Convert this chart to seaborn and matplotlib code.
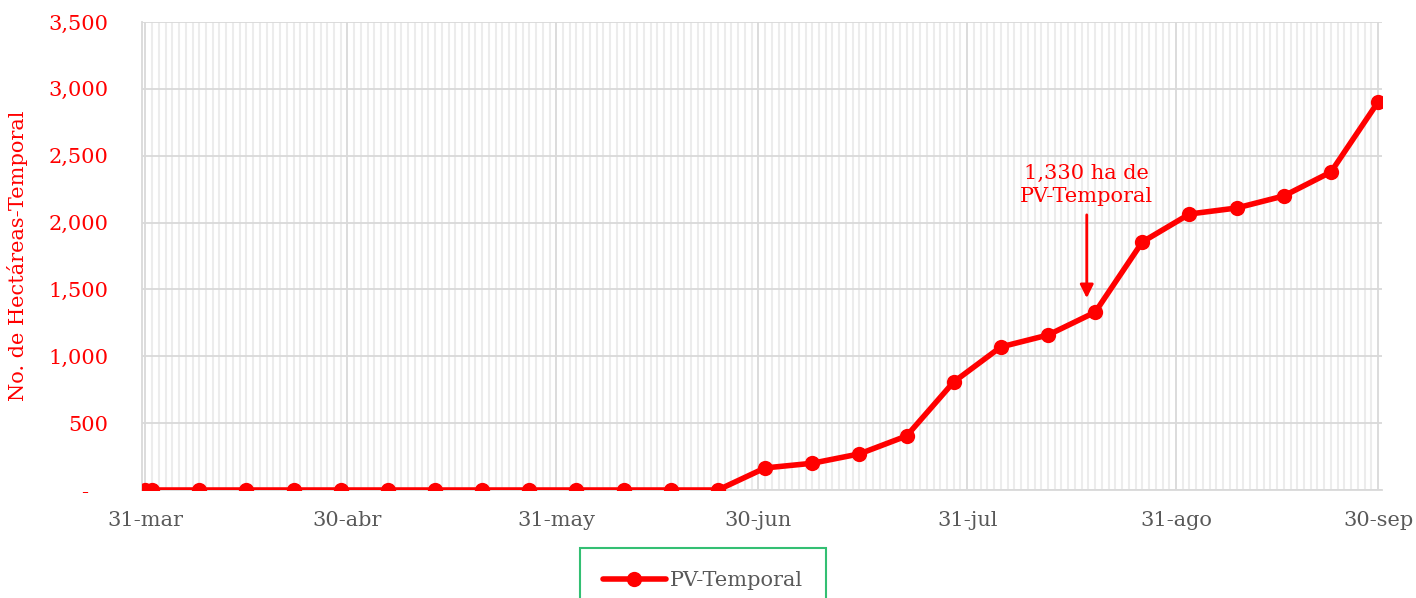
import pandas as pd
import seaborn as sns
import matplotlib.pyplot as plt
import matplotlib.dates as mdates
from matplotlib.ticker import FuncFormatter

# weekly cumulative hectares (PV-Temporal)
fechas = ['2021-03-31', '2021-04-01', '2021-04-08', '2021-04-15', '2021-04-22',
          '2021-04-29', '2021-05-06', '2021-05-13', '2021-05-20', '2021-05-27',
          '2021-06-03', '2021-06-10', '2021-06-17', '2021-06-24', '2021-07-01',
          '2021-07-08', '2021-07-15', '2021-07-22', '2021-07-29', '2021-08-05',
          '2021-08-12', '2021-08-19', '2021-08-26', '2021-09-02', '2021-09-09',
          '2021-09-16', '2021-09-23', '2021-09-30']
hectareas = [0, 0, 0, 0, 0, 0, 0, 0, 0, 0, 0, 0, 0, 0,
             165, 200, 270, 404, 808, 1070, 1159, 1330,
             1855, 2064, 2109, 2199, 2378, 2902]

mes_ticks = ['2021-03-31', '2021-04-30', '2021-05-31', '2021-06-30',
             '2021-07-31', '2021-08-31', '2021-09-30']
mes_labels = ['31-mar', '30-abr', '31-may', '30-jun', '31-jul', '31-ago', '30-sep']
y_ticks = [0, 500, 1000, 1500, 2000, 2500, 3000, 3500]

nota_texto = '1,330 ha de\nPV-Temporal'
nota_fecha = '2021-08-18'

rojo = '#ff0000'
gris_txt = '#595959'
gris_grid = '#d9d9d9'
fs = 15

sns.set_style('white')
plt.rcParams['font.family'] = ['DejaVu Serif']

df = pd.DataFrame({'fecha': pd.to_datetime(fechas), 'ha': hectareas})

fig = plt.figure(figsize=(14.16, 5.98), dpi=100)
ax = fig.add_axes([0.1003, 0.1806, 0.8757, 0.7826])

sns.lineplot(data=df, x='fecha', y='ha', color=rojo, lw=4, marker='o',
             markersize=11, markeredgewidth=0, label='PV-Temporal', ax=ax, zorder=3)

# axes limits
x0 = pd.Timestamp(fechas[0]) - pd.Timedelta(hours=12)
x1 = pd.Timestamp(fechas[-1]) + pd.Timedelta(hours=14)
ax.set_xlim(x0, x1)
ax.set_ylim(y_ticks[0], y_ticks[-1])

# x axis: month-end major ticks, daily minor gridlines
ax.set_xticks(pd.to_datetime(mes_ticks))
ax.set_xticklabels(mes_labels)
ax.xaxis.set_minor_locator(mdates.DayLocator())
ax.grid(which='minor', axis='x', color='#ececec', lw=1.5, zorder=0)
ax.grid(which='major', axis='both', color=gris_grid, lw=1.3, zorder=1)
ax.tick_params(axis='x', which='major', length=6, width=1.3, color=gris_grid,
               pad=9, labelsize=fs, labelcolor=gris_txt)
ax.tick_params(axis='x', which='minor', length=0)

# y axis
ax.set_yticks(y_ticks)
ax.yaxis.set_major_formatter(FuncFormatter(lambda v, p: '-   ' if v == 0 else f'{v:,.0f}'))
ax.tick_params(axis='y', length=0, pad=24, labelsize=fs, labelcolor=rojo)
ax.set_xlabel('')
ax.set_ylabel('No. de Hectáreas-Temporal', color=rojo, fontsize=fs)
ax.yaxis.set_label_coords(-0.092, 0.5)

for s in ['top', 'right']:
    ax.spines[s].set_visible(False)
for s in ['left', 'bottom']:
    ax.spines[s].set_color(gris_grid)
    ax.spines[s].set_linewidth(1.3)

# annotation
nx = pd.Timestamp(nota_fecha) - pd.Timedelta(hours=6)
ax.annotate(nota_texto, xy=(nx, 1435), xytext=(nx, 2280),
            ha='center', va='center', color=rojo, fontsize=fs, linespacing=1.25,
            arrowprops=dict(arrowstyle='-|>', color=rojo, lw=2, mutation_scale=20,
                            shrinkA=4, shrinkB=0))

# legend
ax.legend_.remove()
h, l = ax.get_legend_handles_labels()
leg = fig.legend(h, l, loc='upper center', bbox_to_anchor=(0.4965, 0.0836),
                 bbox_transform=fig.transFigure, frameon=True, fancybox=False,
                 fontsize=fs, handlelength=3.0, handletextpad=0.2, borderpad=1.1,
                 borderaxespad=0, labelcolor=gris_txt)
leg.get_frame().set_edgecolor('#00b050')
leg.get_frame().set_linewidth(1.5)

plt.savefig('out.png', dpi=100)
